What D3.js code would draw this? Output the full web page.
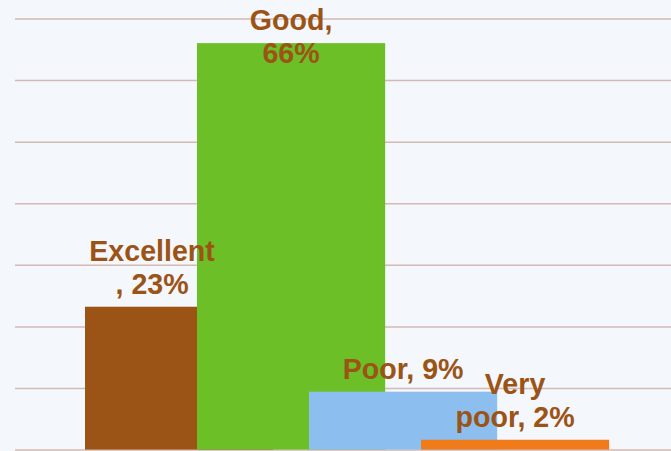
<!DOCTYPE html>
<html>
<head>
<meta charset="utf-8">
<script src="https://cdn.jsdelivr.net/npm/d3@7"></script>
<style>
  html, body { margin: 0; padding: 0; background: #f4f7fc; }
  svg { display: block; }
</style>
</head>
<body>
<div id="chart"></div>
<script>
// data
var categories = ["Excellent", "Good", "Poor", "Very poor"];
var values = [23.2, 66.0, 9.4, 1.6];
var labelLines = [
  ["Excellent", ", 23%"],
  ["Good,", "66%"],
  ["Poor, 9%"],
  ["Very", "poor, 2%"]
];
var colors = ["#9b5316", "#6dbf27", "#8cbfef", "#f07b1b"];
var gridTicks = [0, 10, 20, 30, 40, 50, 60, 70];

var width = 671, height = 451;

var svg = d3.select("#chart").append("svg")
  .attr("width", width)
  .attr("height", height);

svg.append("rect")
  .attr("width", width).attr("height", height)
  .attr("fill", "#f4f7fc");

// scales
var y = d3.scaleLinear().domain([0, 70]).range([449.6, 18.5]);
var x = d3.scaleBand().domain(categories).range([85, 85 + 112 * categories.length])
  .paddingInner(0).paddingOuter(0);
var barW = x.bandwidth() * 1.68;   // bars overlap the next one

// gridlines
svg.append("g")
  .attr("transform", "translate(15,0)")
  .call(d3.axisLeft(y).tickValues(gridTicks).tickSize(-(width - 15)).tickFormat(""))
  .call(function (g) {
    g.select(".domain").remove();
    g.selectAll(".tick line").attr("stroke", "#d4bab2").attr("stroke-width", 1.5);
  });

// bars
svg.selectAll("rect.bar")
  .data(values)
  .enter().append("rect")
  .attr("class", "bar")
  .attr("x", function (d, i) { return x(categories[i]); })
  .attr("y", function (d) { return y(d); })
  .attr("width", barW)
  .attr("height", function (d) { return y(0) - y(d); })
  .attr("fill", function (d, i) { return colors[i]; });

// labels
var lineH = 33;
var labels = svg.selectAll("text.lbl")
  .data(values)
  .enter().append("text")
  .attr("class", "lbl")
  .attr("text-anchor", "middle")
  .attr("fill", "#9b5316")
  .style("font-family", "'Liberation Sans', Arial, sans-serif")
  .style("font-weight", "bold")
  .style("font-size", "28.6px");

labels.each(function (d, i) {
  var lines = labelLines[i];
  var cx = x(categories[i]) + barW / 2;
  if (i === 0) cx -= 27;
  var lastBase = y(d) - 13;
  var firstBase = lastBase - (lines.length - 1) * lineH;
  if (firstBase < 29.5) firstBase = 29.5;  // keep inside the chart
  var t = d3.select(this);
  lines.forEach(function (s, k) {
    t.append("tspan")
      .attr("x", cx)
      .attr("y", firstBase + k * lineH)
      .text(s);
  });
});
</script>
</body>
</html>
